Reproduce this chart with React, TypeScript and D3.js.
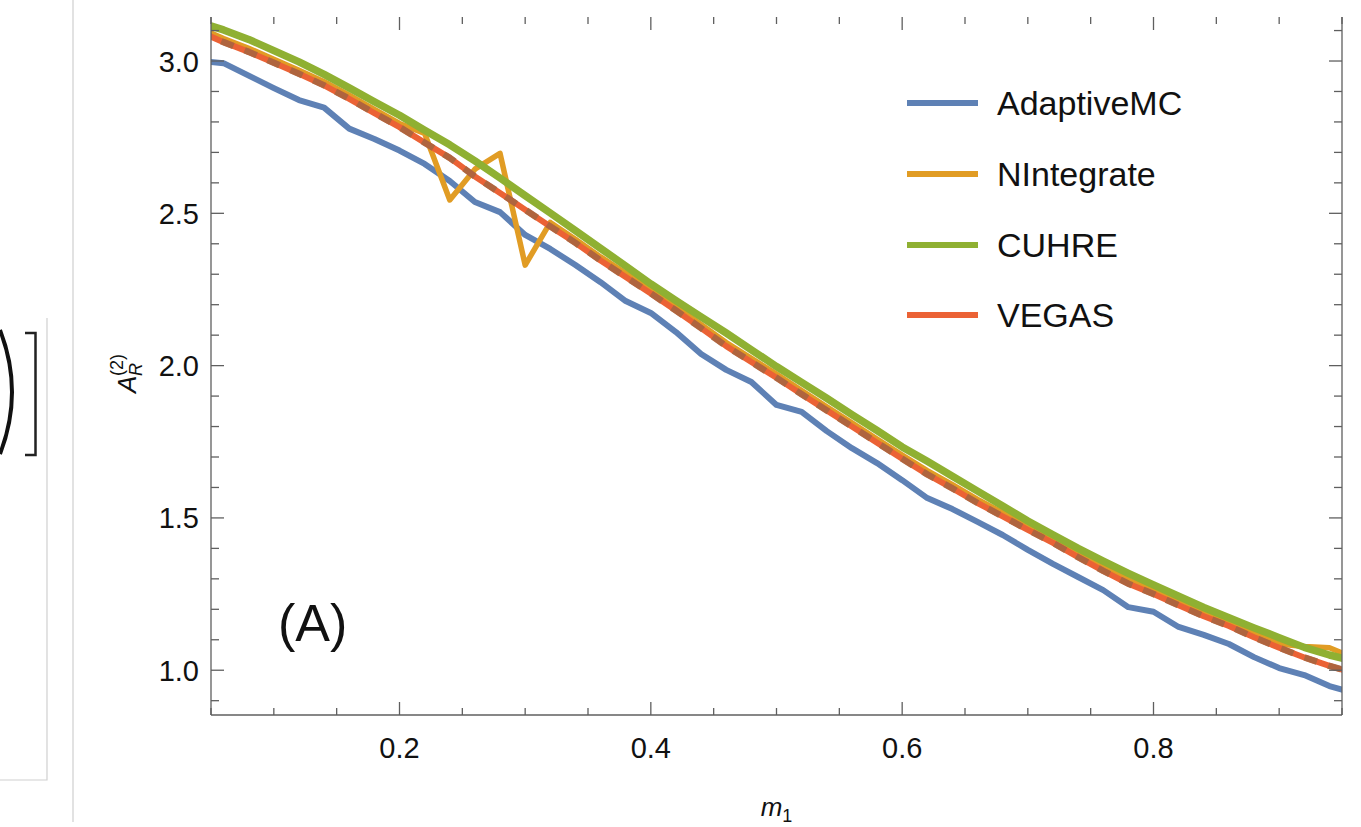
import React from 'react';
import * as d3 from 'd3';

// sample points (m1)
const m1 = [0.04, 0.06, 0.08, 0.10, 0.12, 0.14, 0.16, 0.18, 0.20, 0.22, 0.24, 0.26, 0.28, 0.30, 0.32, 0.34,
  0.36, 0.38, 0.40, 0.42, 0.44, 0.46, 0.48, 0.50, 0.52, 0.54, 0.56, 0.58, 0.60, 0.62, 0.64, 0.66,
  0.68, 0.70, 0.72, 0.74, 0.76, 0.78, 0.80, 0.82, 0.84, 0.86, 0.88, 0.90, 0.92, 0.94, 0.96];

const adaptiveMC = [3.000, 2.993, 2.952, 2.911, 2.872, 2.847, 2.778, 2.744, 2.706, 2.662, 2.606, 2.537, 2.504, 2.429, 2.383, 2.330,
  2.274, 2.212, 2.173, 2.110, 2.038, 1.986, 1.946, 1.871, 1.848, 1.785, 1.729, 1.680, 1.624, 1.565, 1.529, 1.487,
  1.444, 1.395, 1.349, 1.306, 1.263, 1.207, 1.192, 1.142, 1.116, 1.086, 1.043, 1.007, 0.984, 0.948, 0.925];

const nIntegrate = [3.110, 3.074, 3.042, 3.006, 2.970, 2.932, 2.888, 2.841, 2.795, 2.762, 2.544, 2.645, 2.697, 2.330, 2.470, 2.415,
  2.357, 2.303, 2.249, 2.193, 2.135, 2.076, 2.024, 1.972, 1.918, 1.865, 1.812, 1.759, 1.706, 1.655, 1.609, 1.561,
  1.517, 1.473, 1.430, 1.383, 1.338, 1.296, 1.262, 1.225, 1.189, 1.157, 1.120, 1.086, 1.078, 1.074, 1.040];

const cuhre = [3.128, 3.102, 3.071, 3.034, 2.997, 2.956, 2.912, 2.866, 2.822, 2.773, 2.725, 2.672, 2.616, 2.558, 2.501, 2.443,
  2.385, 2.327, 2.268, 2.213, 2.160, 2.107, 2.052, 1.997, 1.945, 1.893, 1.839, 1.787, 1.733, 1.686, 1.637, 1.588,
  1.539, 1.490, 1.445, 1.400, 1.358, 1.318, 1.280, 1.243, 1.206, 1.172, 1.139, 1.107, 1.075, 1.050, 1.030];

const vegas = [3.098, 3.062, 3.030, 2.994, 2.958, 2.920, 2.876, 2.829, 2.783, 2.732, 2.682, 2.621, 2.567, 2.512, 2.457, 2.403,
  2.345, 2.291, 2.237, 2.181, 2.123, 2.064, 2.012, 1.960, 1.906, 1.853, 1.800, 1.747, 1.694, 1.643, 1.597, 1.549,
  1.505, 1.461, 1.418, 1.371, 1.326, 1.284, 1.250, 1.213, 1.177, 1.145, 1.108, 1.074, 1.042, 1.014, 0.990];

// dashed reference curve drawn on top of VEGAS
const reference = [3.098, 3.062, 3.030, 2.994, 2.958, 2.920, 2.876, 2.829, 2.783, 2.732, 2.682, 2.621, 2.567, 2.512, 2.457, 2.403,
  2.345, 2.291, 2.237, 2.181, 2.123, 2.064, 2.012, 1.960, 1.906, 1.853, 1.800, 1.747, 1.694, 1.643, 1.597, 1.549,
  1.505, 1.461, 1.418, 1.371, 1.326, 1.284, 1.250, 1.213, 1.177, 1.145, 1.108, 1.074, 1.042, 1.014, 0.990];

const seriesNames = ['AdaptiveMC', 'NIntegrate', 'CUHRE', 'VEGAS'];
const seriesColors = ['#5e81b5', '#e19c24', '#8fb032', '#eb6235'];

const xMajorTicks = [0.2, 0.4, 0.6, 0.8];
const xMinorTicks = [0.05, 0.1, 0.15, 0.25, 0.3, 0.35, 0.45, 0.5, 0.55, 0.65, 0.7, 0.75, 0.85, 0.9, 0.95];
const yMajorTicks = [1.0, 1.5, 2.0, 2.5, 3.0];
const yMinorTicks = [0.9, 1.1, 1.2, 1.3, 1.4, 1.6, 1.7, 1.8, 1.9, 2.1, 2.2, 2.3, 2.4, 2.6, 2.7, 2.8, 2.9, 3.1];

const W = 1361;
const H = 827;
const frame = { left: 211, right: 1342, top: 17, bottom: 715 };
const axisColor = '#5f5f5f';
const font = 'Liberation Sans, Arial, sans-serif';

export default function App() {
  const x = d3.scaleLinear().domain([0.05, 0.95]).range([frame.left, frame.right]);
  const y = d3.scaleLinear().domain([0.853, 3.1445]).range([frame.bottom, frame.top]);

  const line = d3.line<[number, number]>()
    .x(d => x(d[0]))
    .y(d => y(d[1]));

  const path = (vals: number[]) => line(m1.map((m, i) => [m, vals[i]] as [number, number])) || '';

  const allSeries = [adaptiveMC, nIntegrate, cuhre, vegas];
  const widths = [6, 5.5, 7.5, 6];

  const legendY = [103, 174, 245, 315];

  return (
    <svg width={W} height={H} style={{ position: 'absolute', left: 0, top: 0, background: '#fff' }}
      fontFamily={font}>
      <defs>
        <clipPath id="plotclip">
          <rect x={frame.left} y={frame.top} width={frame.right - frame.left} height={frame.bottom - frame.top} />
        </clipPath>
      </defs>

      {/* leftover pieces of the neighbouring panel */}
      <line x1={73} y1={0} x2={73} y2={822} stroke="#cfcfcf" strokeWidth={1.2} />
      <polyline points="47,318 47,780 0,780" fill="none" stroke="#d0d0d0" strokeWidth={1.2} />
      <path d="M0,330 Q24,392 0,454" fill="none" stroke="#111" strokeWidth={4} />
      <polyline points="25,333 35.5,333 35.5,455 25,455" fill="none" stroke="#222" strokeWidth={2.5} />

      {/* series */}
      <g clipPath="url(#plotclip)" fill="none" strokeLinejoin="round">
        {allSeries.map((vals, i) => (
          <path key={seriesNames[i]} d={path(vals)} stroke={seriesColors[i]} strokeWidth={widths[i]} />
        ))}
        <path d={path(reference)} stroke="#a9653f" strokeWidth={6.5} strokeDasharray="13,12" strokeOpacity={0.9} />
      </g>

      {/* frame */}
      <g stroke={axisColor} strokeWidth={1.3}>
        <line x1={frame.left} y1={frame.top} x2={frame.left} y2={frame.bottom} />
        <line x1={frame.left} y1={frame.bottom} x2={frame.right} y2={frame.bottom} />
        <line x1={frame.right} y1={frame.top} x2={frame.right} y2={frame.bottom} />
        {xMajorTicks.map(t => (
          <g key={'xM' + t}>
            <line x1={x(t)} x2={x(t)} y1={frame.bottom} y2={frame.bottom - 13} />
            <line x1={x(t)} x2={x(t)} y1={frame.top} y2={frame.top + 13} />
          </g>
        ))}
        {xMinorTicks.map(t => (
          <g key={'xm' + t}>
            <line x1={x(t)} x2={x(t)} y1={frame.bottom} y2={frame.bottom - 7} />
            <line x1={x(t)} x2={x(t)} y1={frame.top} y2={frame.top + 7} />
          </g>
        ))}
        {yMajorTicks.map(t => (
          <g key={'yM' + t}>
            <line x1={frame.left} x2={frame.left + 13} y1={y(t)} y2={y(t)} />
            <line x1={frame.right} x2={frame.right - 13} y1={y(t)} y2={y(t)} />
          </g>
        ))}
        {yMinorTicks.map(t => (
          <g key={'ym' + t}>
            <line x1={frame.left} x2={frame.left + 8} y1={y(t)} y2={y(t)} />
            <line x1={frame.right} x2={frame.right - 8} y1={y(t)} y2={y(t)} />
          </g>
        ))}
      </g>

      {/* tick labels */}
      <g fontSize={29} fill="#111">
        {xMajorTicks.map(t => (
          <text key={'xl' + t} x={x(t)} y={frame.bottom + 43} textAnchor="middle">{d3.format('.1f')(t)}</text>
        ))}
        {yMajorTicks.map(t => (
          <text key={'yl' + t} x={frame.left - 12} y={y(t) + 10.5} textAnchor="end">{d3.format('.1f')(t)}</text>
        ))}
      </g>

      {/* axis labels */}
      <text x={(frame.left + frame.right) / 2} y={816} textAnchor="middle" fontSize={26} fill="#111">
        <tspan fontStyle="italic">m</tspan>
        <tspan fontSize={18} dy={6}>1</tspan>
      </text>
      <g transform="translate(136,393) rotate(-90)" fill="#111">
        <text x={0} y={0} fontSize={26} fontStyle="italic">A</text>
        <text x={17} y={6} fontSize={18} fontStyle="italic">R</text>
        <text x={17} y={-13} fontSize={18}>(2)</text>
      </g>

      {/* panel tag */}
      <text x={278} y={641} fontSize={52} fill="#111">(A)</text>

      {/* legend */}
      {seriesNames.map((name, i) => (
        <g key={'lg' + name}>
          <line x1={907} x2={978} y1={legendY[i]} y2={legendY[i]} stroke={seriesColors[i]} strokeWidth={6} />
          <text x={997} y={legendY[i] + 12} fontSize={34} fill="#111">{name}</text>
        </g>
      ))}
    </svg>
  );
}
